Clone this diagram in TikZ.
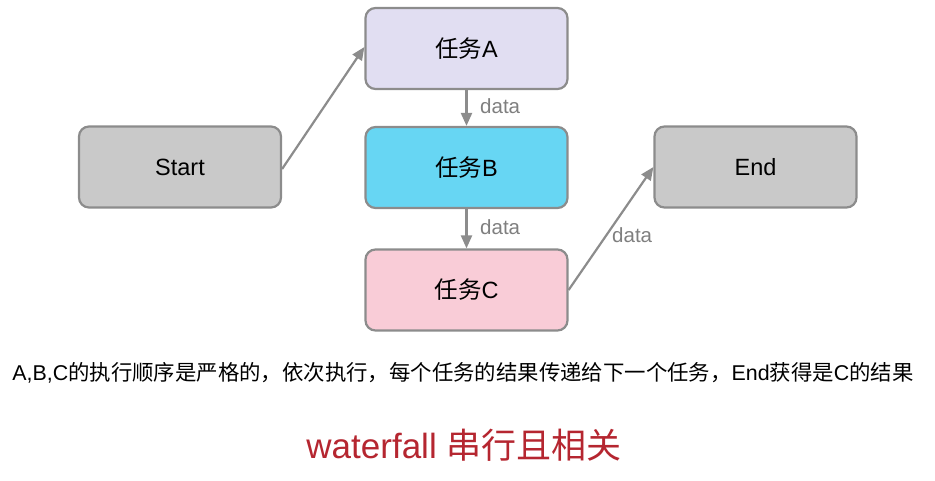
\documentclass[tikz,border=0pt]{standalone}
\usepackage{fontspec}
\setmainfont{Liberation Sans}
\newfontfamily\cjk{Noto Sans CJK SC}
\usetikzlibrary{arrows.meta}
\definecolor{edgegray}{HTML}{8C8C8C}
\definecolor{boxgray}{HTML}{C9C9C9}
\definecolor{boxA}{HTML}{E1DEF2}
\definecolor{boxB}{HTML}{67D6F3}
\definecolor{boxC}{HTML}{F9CCD7}
\definecolor{titlered}{HTML}{B52630}
\definecolor{labelgray}{HTML}{7F7F7F}
\begin{document}
\begin{tikzpicture}[x=1pt,y=-1pt,
  taskbox/.style={draw=edgegray, line width=2.2pt, rounded corners=10pt, minimum width=202pt, minimum height=81pt, inner sep=0pt, font=\fontsize{23.5}{28}\selectfont},
  conn/.style={draw=edgegray, line width=2.2pt, -{Triangle[length=13pt,width=11pt]}},
  datalabel/.style={text=labelgray, font=\fontsize{20.5}{24}\selectfont, inner sep=0pt}]
\useasboundingbox (0,0) rectangle (935,481);
\node[taskbox, fill=boxA] (A) at (466.5,48.5) {{\cjk 任务}A};
\node[taskbox, fill=boxB] (B) at (466.5,167.5) {{\cjk 任务}B};
\node[taskbox, fill=boxC] (C) at (466.5,290) {{\cjk 任务}C};
\node[taskbox, fill=boxgray] (S) at (180,167) {Start};
\node[taskbox, fill=boxgray] (E) at (755.5,167) {End};
\draw[conn] ([yshift=-2pt]S.east) -- ([yshift=1.5pt]A.west);
\draw[conn] (A.south) -- (B.north);
\draw[conn] (B.south) -- (C.north);
\draw[conn] (C.east) -- (E.west);
\node[datalabel, anchor=west] (d1) at (480,106) {data};
\node[datalabel, anchor=west] (d2) at (480,227) {data};
\node[datalabel, anchor=west] (d3) at (612,235) {data};
\node[font=\fontsize{21.4}{25}\selectfont, inner sep=0pt] (note) at (463,373) {A,B,C{\cjk 的执行顺序是严格的，依次执行，每个任务的结果传递给下一个任务，}End{\cjk 获得是}C{\cjk 的结果}};
\node[text=titlered, font=\fontsize{35}{42}\selectfont, inner sep=0pt] (title) at (464,445) {waterfall {\cjk 串行且相关}};
\end{tikzpicture}
\end{document}
